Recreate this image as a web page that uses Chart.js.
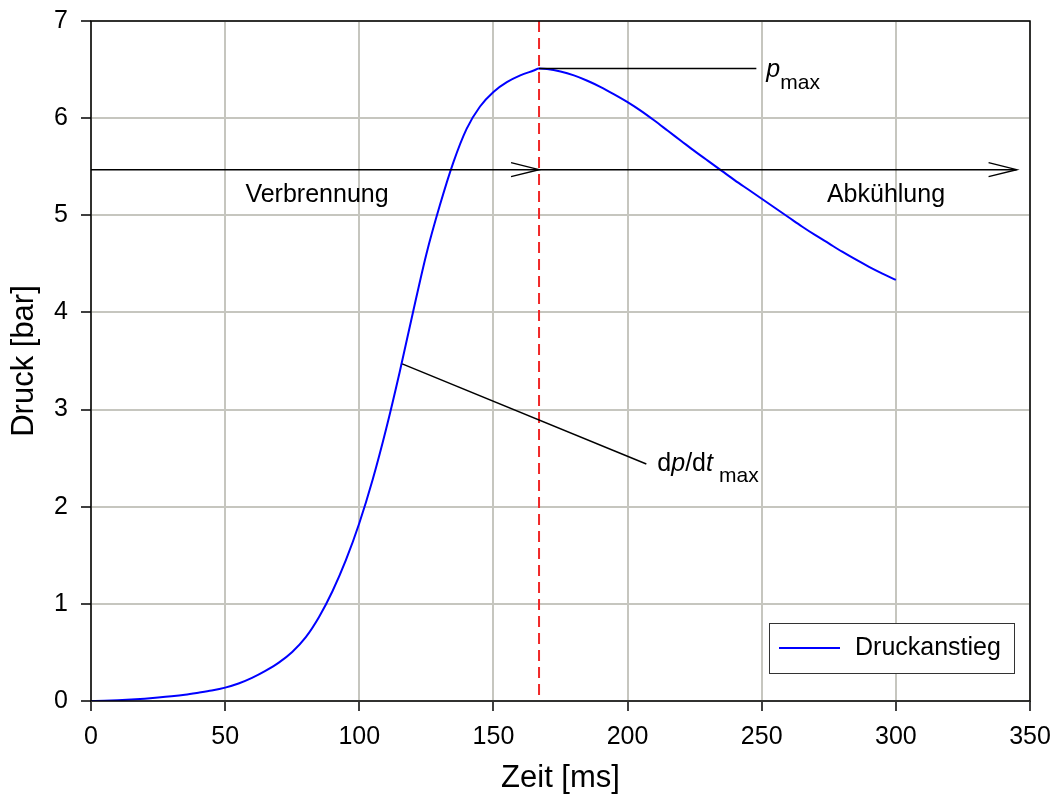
<!DOCTYPE html>
<html lang="de">
<head>
    <meta charset="UTF-8">
    <title>Druckanstieg</title>
    <script src="https://cdn.jsdelivr.net/npm/chart.js"></script>
    <style>
        body { margin: 0; background: white; }
        #wrap { width: 1057px; height: 803px; }
    </style>
</head>
<body>
    <div id="wrap"><canvas id="grafico" width="1057" height="803"></canvas></div>

    <script>
        // Zeit [ms]
        const zeit = [0, 5, 10, 15, 20, 25, 30, 35, 40, 45, 50, 55, 60, 65, 70, 75, 80, 85, 90, 95,
            100, 105, 110, 115, 120, 125, 130, 135, 140, 145, 150, 155, 160, 165, 167, 170, 175, 180,
            185, 190, 195, 200, 205, 210, 215, 220, 225, 230, 235, 240, 245, 250, 255, 260, 265, 270,
            275, 280, 285, 290, 295, 300];
        // Druck [bar]
        const druck = [0.000, 0.003, 0.008, 0.015, 0.024, 0.035, 0.048, 0.064, 0.085, 0.108, 0.138, 0.180, 0.238, 0.310, 0.395, 0.505, 0.655, 0.865, 1.130, 1.450,
            1.830, 2.280, 2.800, 3.380, 4.000, 4.600, 5.100, 5.540, 5.890, 6.120, 6.270, 6.370, 6.440, 6.490, 6.510, 6.505, 6.480, 6.440,
            6.385, 6.320, 6.245, 6.165, 6.075, 5.975, 5.870, 5.765, 5.660, 5.560, 5.460, 5.360, 5.265, 5.170, 5.075, 4.980, 4.885, 4.795,
            4.710, 4.625, 4.545, 4.470, 4.400, 4.335];

        const xTicks = [0, 50, 100, 150, 200, 250, 300, 350];
        const yTicks = [0, 1, 2, 3, 4, 5, 6, 7];

        // Beschriftungen (in Datenkoordinaten)
        const tPmax = 167;          // Zeitpunkt des Maximaldrucks
        const pfeilDruck = 5.47;    // Höhe der Pfeile
        const pfeilEnde = 345;
        const pmaxLinieEnde = 248;
        const dpdtPunkt = [116, 3.47];
        const dpdtLinieEnde = [207, 2.44];

        const schrift = '"Liberation Sans", Arial, sans-serif';

        function pfeilspitze(ctx, x, y) {
            ctx.beginPath();
            ctx.moveTo(x - 28, y - 7);
            ctx.lineTo(x, y);
            ctx.lineTo(x - 28, y + 7);
            ctx.stroke();
        }

        // Achsen ohne automatische Randabstände, damit der Plotbereich fest bleibt
        function festeGroesse(s, breite, hoehe) {
            if (breite) s.width = breite;
            if (hoehe) s.height = hoehe;
            s.paddingLeft = 0;
            s.paddingRight = 0;
            s.paddingTop = 0;
            s.paddingBottom = 0;
        }

        const beschriftung = {
            id: 'beschriftung',
            afterDatasetsDraw(chart) {
                const ctx = chart.ctx;
                const xs = chart.scales.x, ys = chart.scales.y;
                const a = chart.chartArea;
                const pmax = Math.max(...druck);
                ctx.save();

                // rote Strichlinie bei p_max
                ctx.strokeStyle = '#f02828';
                ctx.lineWidth = 2;
                ctx.setLineDash([11, 6]);
                ctx.beginPath();
                ctx.moveTo(xs.getPixelForValue(tPmax), a.top);
                ctx.lineTo(xs.getPixelForValue(tPmax), a.bottom);
                ctx.stroke();
                ctx.setLineDash([]);

                ctx.strokeStyle = '#000';
                ctx.lineWidth = 1.5;

                // p_max Linie
                const yp = ys.getPixelForValue(pmax);
                ctx.beginPath();
                ctx.moveTo(xs.getPixelForValue(tPmax), yp);
                ctx.lineTo(xs.getPixelForValue(pmaxLinieEnde), yp);
                ctx.stroke();

                // Pfeile
                const ya = ys.getPixelForValue(pfeilDruck);
                ctx.beginPath();
                ctx.moveTo(a.left, ya);
                ctx.lineTo(xs.getPixelForValue(pfeilEnde), ya);
                ctx.stroke();
                pfeilspitze(ctx, xs.getPixelForValue(tPmax), ya);
                pfeilspitze(ctx, xs.getPixelForValue(pfeilEnde), ya);

                // dp/dt Linie
                ctx.beginPath();
                ctx.moveTo(xs.getPixelForValue(dpdtPunkt[0]), ys.getPixelForValue(dpdtPunkt[1]));
                ctx.lineTo(xs.getPixelForValue(dpdtLinieEnde[0]), ys.getPixelForValue(dpdtLinieEnde[1]));
                ctx.stroke();

                // Texte
                ctx.fillStyle = '#000';
                ctx.textBaseline = 'alphabetic';
                ctx.font = '25px ' + schrift;
                ctx.textAlign = 'center';
                ctx.fillText('Verbrennung', 317, ya + 32);
                ctx.fillText('Abkühlung', 886, ya + 32);

                ctx.textAlign = 'left';
                let x0 = xs.getPixelForValue(pmaxLinieEnde) + 10;
                ctx.font = 'italic 25px ' + schrift;
                ctx.fillText('p', x0, yp + 8);
                x0 += ctx.measureText('p').width;
                ctx.font = '21px ' + schrift;
                ctx.fillText('max', x0, yp + 20);

                let x1 = xs.getPixelForValue(dpdtLinieEnde[0]) + 11;
                const yb = ys.getPixelForValue(dpdtLinieEnde[1]) + 7.5;
                ctx.font = '25px ' + schrift;
                ctx.fillText('d', x1, yb);
                x1 += ctx.measureText('d').width;
                ctx.font = 'italic 25px ' + schrift;
                ctx.fillText('p', x1, yb);
                x1 += ctx.measureText('p').width;
                ctx.font = '25px ' + schrift;
                ctx.fillText('/d', x1, yb);
                x1 += ctx.measureText('/d').width;
                ctx.font = 'italic 25px ' + schrift;
                ctx.fillText('t', x1, yb);
                x1 += ctx.measureText('t').width + 6;
                ctx.font = '21px ' + schrift;
                ctx.fillText('max', x1, yb + 11);

                // Rahmen
                ctx.strokeStyle = '#000';
                ctx.lineWidth = 1.5;
                ctx.strokeRect(a.left, a.top, a.right - a.left, a.bottom - a.top);

                // Legende
                const lx = 769, ly = 623, lw = 245, lh = 50;
                ctx.fillStyle = '#fff';
                ctx.fillRect(lx, ly, lw, lh);
                ctx.strokeStyle = '#333';
                ctx.lineWidth = 1;
                ctx.strokeRect(lx + 0.5, ly + 0.5, lw, lh);
                ctx.strokeStyle = chart.data.datasets[0].borderColor;
                ctx.lineWidth = 2;
                ctx.beginPath();
                ctx.moveTo(lx + 10, ly + 25);
                ctx.lineTo(lx + 71, ly + 25);
                ctx.stroke();
                ctx.fillStyle = '#000';
                ctx.font = '25px ' + schrift;
                ctx.textBaseline = 'middle';
                ctx.fillText(chart.data.datasets[0].label, lx + 86, ly + 25);

                ctx.restore();
            }
        };

        new Chart(document.getElementById('grafico'), {
            type: 'line',
            data: {
                datasets: [{
                    label: 'Druckanstieg',
                    data: zeit.map((t, i) => ({ x: t, y: druck[i] })),
                    borderColor: '#0000ff',
                    borderWidth: 2,
                    pointRadius: 0,
                    cubicInterpolationMode: 'monotone',
                    fill: false
                }]
            },
            options: {
                responsive: false,
                animation: false,
                layout: { padding: { top: 21, right: 27, left: 0, bottom: 0 } },
                plugins: {
                    legend: { display: false },
                    tooltip: { enabled: false }
                },
                scales: {
                    x: {
                        type: 'linear',
                        min: 0,
                        max: 350,
                        afterBuildTicks: s => { s.ticks = xTicks.map(v => ({ value: v })); },
                        afterFit: s => festeGroesse(s, 0, 102),
                        grid: { color: '#c6c6bf', lineWidth: 2, tickColor: '#000', tickLength: 10, tickWidth: 1.5 },
                        border: { display: false },
                        ticks: { color: '#000', font: { family: schrift, size: 25 }, padding: 11, maxRotation: 0 },
                        title: { display: true, text: 'Zeit [ms]', color: '#000', font: { family: schrift, size: 31 }, padding: { top: 4, bottom: 6 } }
                    },
                    y: {
                        type: 'linear',
                        min: 0,
                        max: 7,
                        afterBuildTicks: s => { s.ticks = yTicks.map(v => ({ value: v })); },
                        afterFit: s => festeGroesse(s, 91, 0),
                        grid: { color: '#c6c6bf', lineWidth: 2, tickColor: '#000', tickLength: 10, tickWidth: 1.5 },
                        border: { display: false },
                        ticks: { color: '#000', font: { family: schrift, size: 25 }, padding: 13 },
                        title: { display: true, text: 'Druck [bar]', color: '#000', font: { family: schrift, size: 31 }, padding: { top: 6 } }
                    }
                }
            },
            plugins: [beschriftung]
        });
    </script>
</body>
</html>
